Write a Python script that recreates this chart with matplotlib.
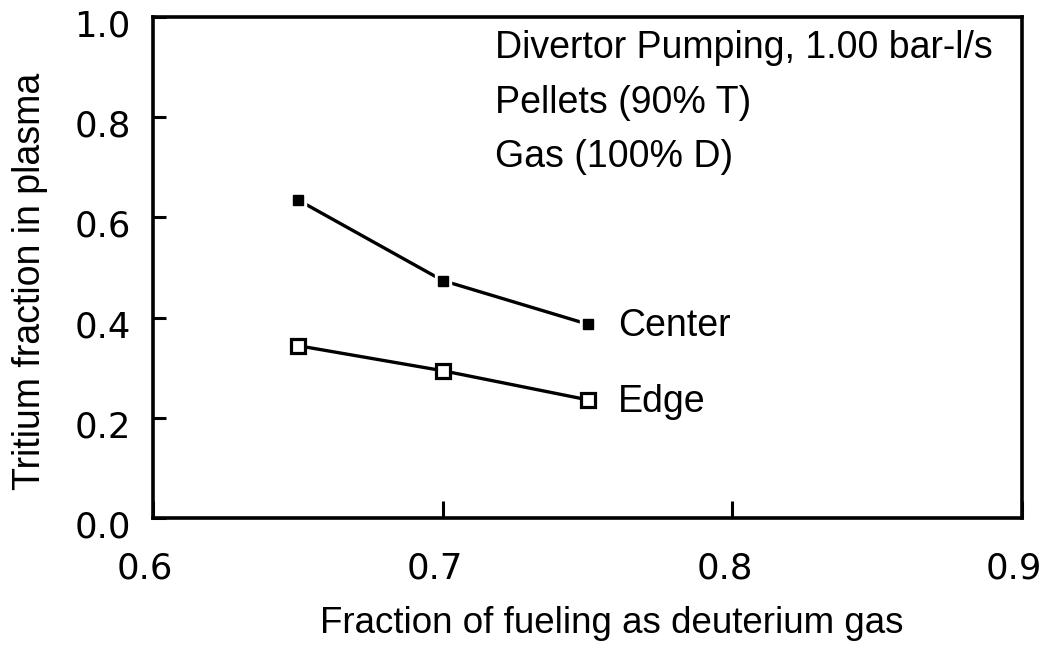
import matplotlib
matplotlib.use("Agg")
import matplotlib.pyplot as plt
from matplotlib.transforms import ScaledTranslation

# fueling fraction (deuterium gas) and tritium fraction at center / edge
gas_fraction = [0.65, 0.70, 0.75]
center_tritium = [0.635, 0.474, 0.387]
edge_tritium = [0.344, 0.294, 0.236]

x_ticks = [0.6, 0.7, 0.8, 0.9]
y_ticks = [0.0, 0.2, 0.4, 0.6, 0.8, 1.0]

notes = ["Divertor Pumping, 1.00 bar-l/s", "Pellets (90% T)", "Gas (100% D)"]

TEXT_FONT = ["Liberation Sans", "DejaVu Sans"]
TICK_FONT = ["DejaVu Sans"]
FS = 27

fig = plt.figure(figsize=(10.49, 6.47), dpi=100)
ax = fig.add_axes([153 / 1049, 1 - 518 / 647, 869 / 1049, 501 / 647])

# lines first, then a white halo so the segments stop short of the markers
ax.plot(gas_fraction, center_tritium, color="black", lw=2.4, zorder=2)
ax.plot(gas_fraction, edge_tritium, color="black", lw=2.4, zorder=2)
ax.plot(gas_fraction, center_tritium, ls="none", marker="s", ms=11,
        mfc="white", mec="white", zorder=3)
ax.plot(gas_fraction, center_tritium, ls="none", marker="s", ms=6.5,
        mfc="black", mec="black", zorder=4)
ax.plot(gas_fraction, edge_tritium, ls="none", marker="s", ms=10.5,
        mfc="white", mec="black", mew=2.3, zorder=4)

ax.text(gas_fraction[-1] + 0.0105, center_tritium[-1] - 0.024, "Center",
        fontsize=FS, family=TEXT_FONT, va="baseline", ha="left")
ax.text(gas_fraction[-1] + 0.0105, edge_tritium[-1] - 0.024, "Edge",
        fontsize=FS, family=TEXT_FONT, va="baseline", ha="left")

note_y = [0.918, 0.808, 0.700]
for line, y in zip(notes, note_y):
    ax.text(0.7180, y, line, fontsize=FS, family=TEXT_FONT,
            va="baseline", ha="left")

ax.set_xlim(0.6, 0.9)
ax.set_ylim(0.0, 1.0)
ax.set_xticks(x_ticks)
ax.set_yticks(y_ticks)
ax.set_xticklabels([f"{v:.1f}" for v in x_ticks], family=TICK_FONT, fontsize=25.5)
ax.set_yticklabels([f"{v:.1f}" for v in y_ticks], family=TICK_FONT, fontsize=25.5)
ax.tick_params(axis="x", direction="in", length=12, width=2.2, pad=24)
ax.tick_params(axis="y", direction="in", length=9, width=2.2, pad=16)
for s in ax.spines.values():
    s.set_linewidth(2.6)

# tick labels sit a little off their ticks
for lab in ax.get_xticklabels():
    lab.set_transform(lab.get_transform() + ScaledTranslation(-8 / 100, 0, fig.dpi_scale_trans))
for lab in ax.get_yticklabels():
    lab.set_transform(lab.get_transform() + ScaledTranslation(0, -6 / 100, fig.dpi_scale_trans))

ax.set_xlabel("Fraction of fueling as deuterium gas", fontsize=26.5,
              family=TEXT_FONT, va="baseline")
ax.set_ylabel("Tritium fraction in plasma", fontsize=27, family=TEXT_FONT,
              va="center")
ax.xaxis.set_label_coords(0.528, -0.2295)
ax.yaxis.set_label_coords(-0.1415, 0.472)

fig.savefig("out.png", dpi=100, facecolor="white")
